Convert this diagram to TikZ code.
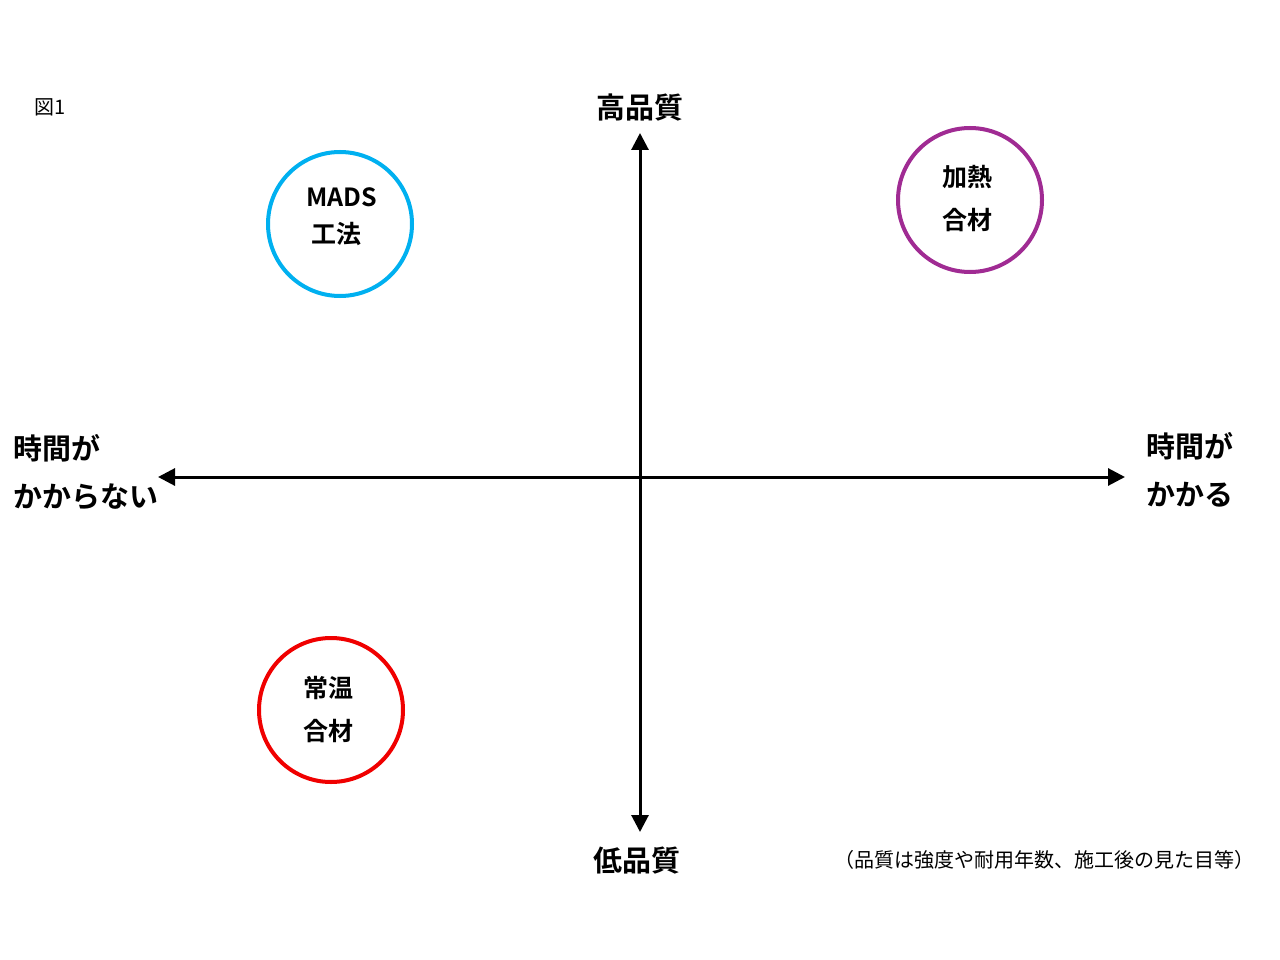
\documentclass[tikz,border=0pt]{standalone}
\usepackage{fontspec}
\setmainfont{Noto Sans CJK JP}
\newfontfamily\jpb{Noto Sans CJK JP Bold}
\usetikzlibrary{arrows.meta}
\definecolor{mcyan}{RGB}{0,176,240}
\definecolor{mpurple}{RGB}{160,43,147}
\definecolor{mred}{RGB}{240,0,0}
\tikzset{
  axis/.style={line width=3pt,-{Triangle[length=17pt,width=17pt]}},
  ring/.style={circle,line width=4pt,minimum size=144pt,inner sep=0pt},
  big/.style={font=\jpb\fontsize{29}{34}\selectfont,inner sep=0pt},
  mid/.style={font=\jpb\fontsize{25}{30}\selectfont,inner sep=0pt},
  small/.style={font=\fontsize{20}{24}\selectfont,inner sep=0pt},
}
\begin{document}
\begin{tikzpicture}[x=1pt,y=-1pt]
\useasboundingbox[fill=white] (0,0) rectangle (1280,960);
\coordinate (o) at (640,477);
\coordinate (top) at (640,133);
\coordinate (bot) at (640,832);
\coordinate (lft) at (158,477);
\coordinate (rgt) at (1125,477);
\draw[axis] (o) -- (top);
\draw[axis] (o) -- (bot);
\draw[axis] (o) -- (lft);
\draw[axis] (o) -- (rgt);
\node[big] (hq) at (640,108) {高品質};
\node[big] (lq) at (637,861) {低品質};
\node[big,anchor=west] (l1) at (13,448) {時間が};
\node[big,anchor=west] (l2) at (13,497) {かからない};
\node[big,anchor=west] (r1) at (1146,446) {時間が};
\node[big,anchor=west] (r2) at (1146,495) {かかる};
\node[ring,draw=mcyan] (c1) at (340,224) {};
\node[mid] (c1a) at (342,197) {MADS};
\node[mid] (c1b) at (336,234) {工法};
\node[ring,draw=mpurple] (c2) at (970,200) {};
\node[mid] (c2a) at (967,177) {加熱};
\node[mid] (c2b) at (967,220) {合材};
\node[ring,draw=mred] (c3) at (331,710) {};
\node[mid] (c3a) at (328,688) {常温};
\node[mid] (c3b) at (328,731) {合材};
\node[small,anchor=west] (fig) at (34,107) {図1};
\node[small,anchor=west] (note) at (834,860) {（品質は強度や耐用年数、施工後の見た目等）};
\end{tikzpicture}
\end{document}
